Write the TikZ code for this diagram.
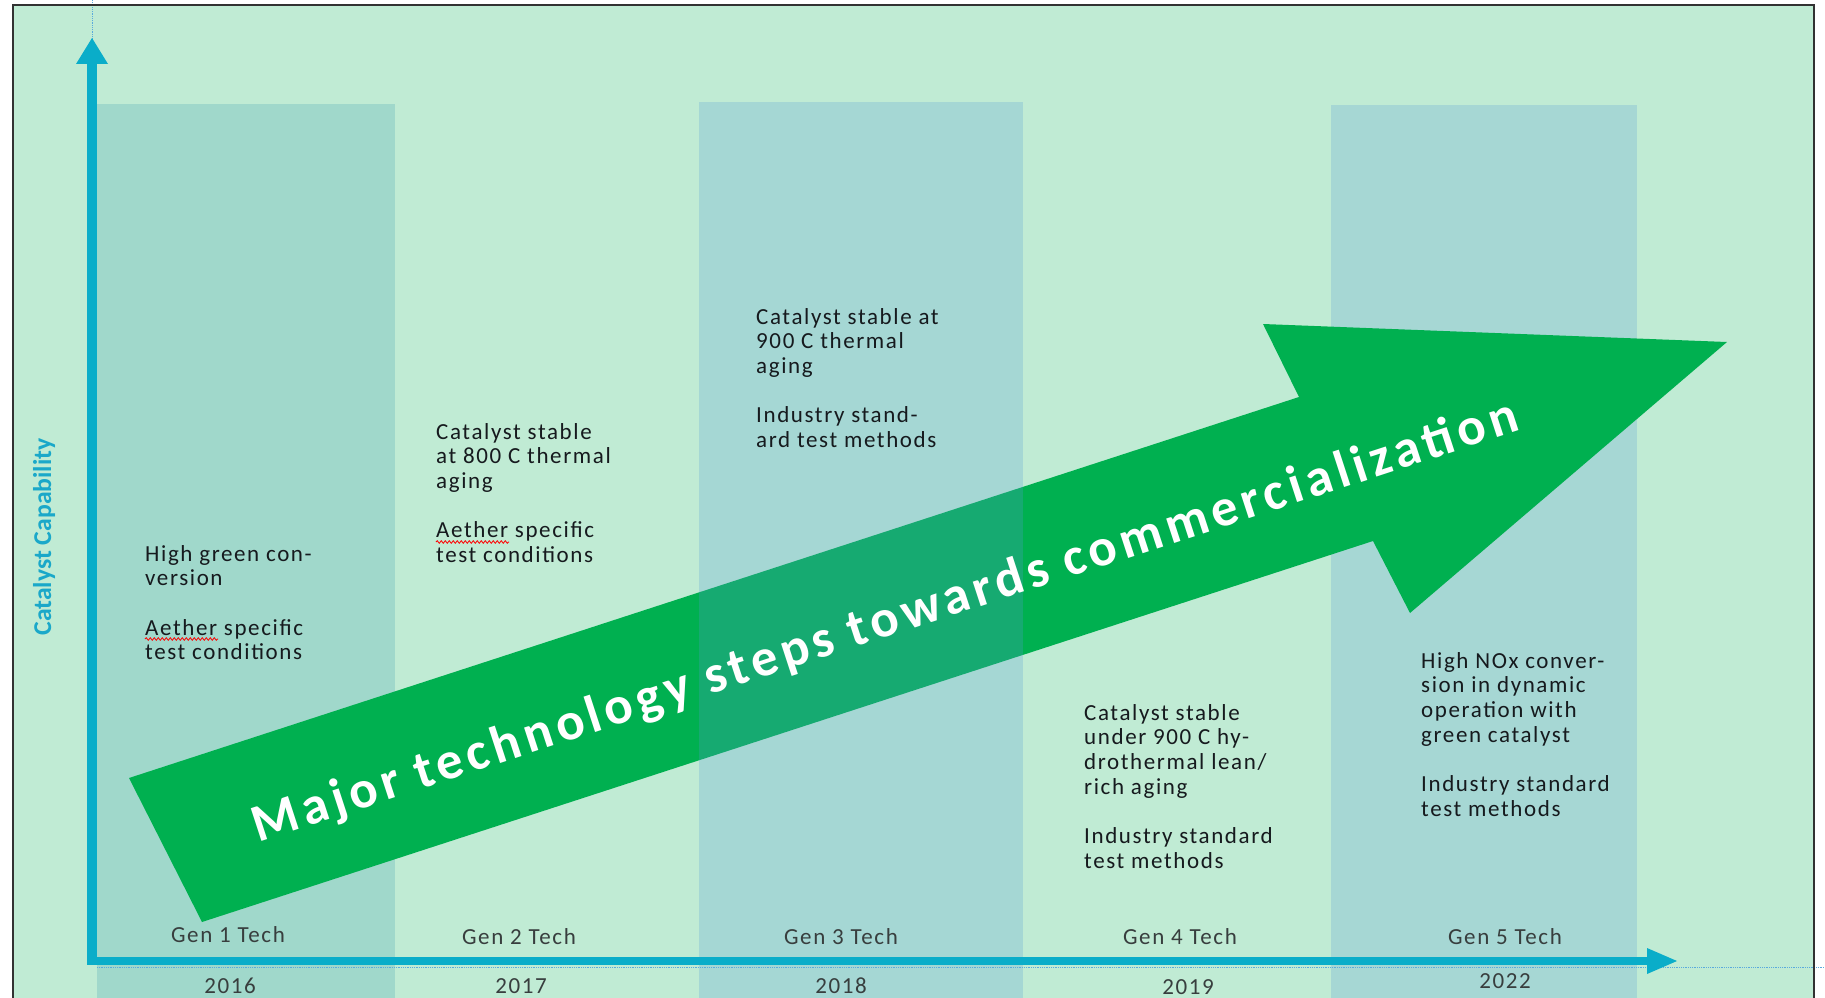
\documentclass[tikz,border=0pt]{standalone}
\usepackage{fontspec}
\setmainfont{Carlito}[LetterSpace=7]
\newfontfamily\axislabelfont{Carlito}
\newfontfamily\bannerfont{Carlito}[LetterSpace=9.3]
\usetikzlibrary{decorations.pathmorphing}

\definecolor{mint}{RGB}{192,235,212}
\definecolor{colgreen}{RGB}{160,216,203}
\definecolor{colblue}{RGB}{166,215,212}
\definecolor{overlayblue}{RGB}{88,156,212}
\definecolor{arrowgreen}{RGB}{0,176,80}
\definecolor{axiscyan}{RGB}{10,173,201}
\definecolor{labelcyan}{RGB}{26,168,201}
\definecolor{txtdark}{RGB}{22,26,30}
\definecolor{txtgray}{RGB}{56,62,62}
\definecolor{framegray}{RGB}{50,50,50}
\definecolor{dotblue}{RGB}{90,170,220}

% a left-aligned block whose baseline is that of its first line
\newcommand\txtblock[1]{\begin{tabular}[t]{@{}l@{}}#1\end{tabular}}

\begin{document}
\begin{tikzpicture}[x=1pt,y=-1pt,
  body/.style={anchor=base west, inner sep=0pt, text=txtdark,
    font=\fontsize{23}{24.7}\selectfont},
  genlbl/.style={anchor=base, inner sep=0pt, text=txtgray,
    font=\fontsize{23}{24.7}\selectfont},
  squiggle/.style={red, line width=0.8pt, decorate,
    decoration={snake, amplitude=1.3pt, segment length=4pt}},
  axisfill/.style={fill=axiscyan}]

\useasboundingbox (0,0) rectangle (1825,998);
\fill[white] (0,0) rectangle (1825,998);
\fill[mint] (13,5) rectangle (1814,998);

% year columns lying under the banner arrow
\fill[colgreen] (97,104) rectangle (395,998);
\fill[colblue] (1331,105) rectangle (1637,998);

% banner arrow
\fill[arrowgreen] (129,778) -- (1299,397) -- (1263,324) -- (1727,342)
  -- (1410,613) -- (1373,541) -- (202,922) -- cycle;

% translucent column over the banner
\fill[overlayblue, fill opacity=0.25] (699,102) rectangle (1023,998);

% guide lines
\draw[dotblue, densely dotted, line width=0.8pt] (92,0) -- (92,40);
\draw[dotblue, densely dotted, line width=0.8pt] (97,967) -- (1825,967);

% axes
\fill[axisfill] (87,965) rectangle (97,62);
\fill[axisfill] (76,64) -- (92,38) -- (108,64) -- cycle;
\fill[axisfill] (87,957) rectangle (1649,965);
\fill[axisfill] (1647,948) -- (1677,961) -- (1647,974) -- cycle;

% frame
\draw[framegray, line width=2.5pt, line join=miter] (13,998) -- (13,5) -- (1814,5) -- (1814,998);

% axis label
\node[font=\axislabelfont\bfseries\fontsize{25.7}{28}\selectfont, text=labelcyan,
  rotate=90, anchor=base, inner sep=0pt] (ylabel) at (51,537) {Catalyst Capability};

% milestone descriptions
\node[body] (d1) at (145,561) {\txtblock{High green con-\\version\\ \\Aether specific\\test conditions}};
\node[body] (d2) at (436,439) {\txtblock{Catalyst stable\\at 800 C thermal\\aging\\ \\Aether specific\\test conditions}};
\node[body] (d3) at (756,324) {\txtblock{Catalyst stable at\\900 C thermal\\aging\\ \\Industry stand-\\ard test methods}};
\node[body] (d4) at (1084,720) {\txtblock{Catalyst stable\\under 900 C hy-\\drothermal lean/\\rich aging\\ \\Industry standard\\test methods}};
\node[body] (d5) at (1421,668) {\txtblock{High NOx conver-\\sion in dynamic\\operation with\\green catalyst\\ \\Industry standard\\test methods}};

% spelling marks under the word Aether
\draw[squiggle] (145,639) -- (218,639);
\draw[squiggle] (436,542) -- (509,542);

% generation labels
\node[genlbl] (g1) at (228,942) {Gen 1 Tech};
\node[genlbl] (g2) at (519,944) {Gen 2 Tech};
\node[genlbl] (g3) at (841,944) {Gen 3 Tech};
\node[genlbl] (g4) at (1180,944) {Gen 4 Tech};
\node[genlbl] (g5) at (1505,944) {Gen 5 Tech};

% years
\node[genlbl] (y1) at (230,993) {2016};
\node[genlbl] (y2) at (521,993) {2017};
\node[genlbl] (y3) at (841,993) {2018};
\node[genlbl] (y4) at (1188,994) {2019};
\node[genlbl] (y5) at (1505,988) {2022};

% banner text
\node[font=\bannerfont\bfseries\fontsize{53}{60}\selectfont, text=white,
  rotate=18.1, anchor=base, inner sep=0pt] (banner) at (890,636)
  {Major technology steps towards commercialization};
\end{tikzpicture}
\end{document}
